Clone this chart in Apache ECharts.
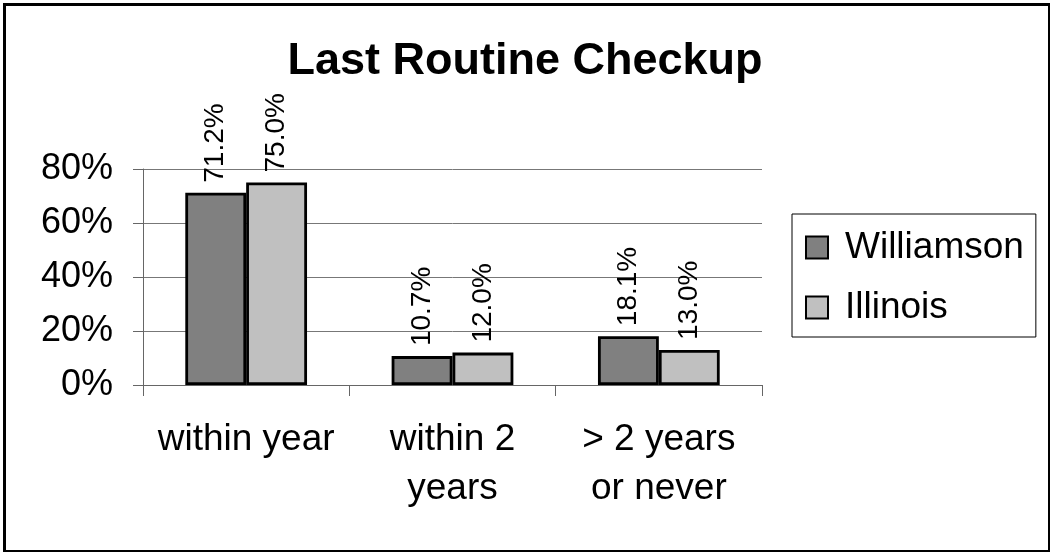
<!DOCTYPE html>
<html>
<head>
<meta charset="utf-8">
<script src="https://cdn.jsdelivr.net/npm/echarts@6/dist/echarts.min.js"></script>
<style>
html,body{margin:0;padding:0;background:#fff;}
#chart{width:1050px;height:552px;}
</style>
</head>
<body>
<div id="chart"></div>
<script>
var categories = ['within year', 'within 2\nyears', '> 2 years\nor never'];
var williamson = [71.2, 10.7, 18.1];
var illinois = [75.0, 12.0, 13.0];
var seriesNames = ['Williamson', 'Illinois'];
var titleText = 'Last Routine Checkup';

var FONT = '"Liberation Sans", Arial, Helvetica, sans-serif';
var chart = echarts.init(document.getElementById('chart'), null, {renderer: 'canvas'});

function barLabel() {
  return {
    show: true,
    position: 'top',
    rotate: 90,
    align: 'left',
    verticalAlign: 'middle',
    distance: 10,
    fontFamily: FONT,
    fontSize: 28,
    color: '#000',
    formatter: function (p) { return p.value.toFixed(1) + '%'; }
  };
}

chart.setOption({
  animation: false,
  backgroundColor: '#fff',
  title: {
    text: titleText,
    left: 'center',
    top: 34,
    textStyle: {fontFamily: FONT, fontSize: 45, fontWeight: 'bold', color: '#000'}
  },
  legend: {
    orient: 'vertical',
    left: 792,
    top: 214,
    padding: [15, 12, 11, 13],
    itemWidth: 22,
    itemHeight: 22,
    itemGap: 23,
    itemTextGap: 16,
    borderColor: '#000',
    borderWidth: 1,
    icon: 'rect',
    textStyle: {fontFamily: FONT, fontSize: 37, color: '#000', padding: [0, 0, 0, 12]},
    data: seriesNames
  },
  grid: {left: 143, right: 288, top: 169, bottom: 167, containLabel: false},
  xAxis: {
    type: 'category',
    data: categories,
    axisLine: {show: true, lineStyle: {color: '#666', width: 1}},
    axisTick: {show: true, length: 11, lineStyle: {color: '#666'}},
    axisLabel: {
      margin: 30,
      fontFamily: FONT,
      fontSize: 37,
      lineHeight: 49,
      color: '#000',
      interval: 0
    }
  },
  yAxis: {
    type: 'value',
    min: 0,
    max: 80,
    interval: 20,
    axisLine: {show: true, lineStyle: {color: '#666', width: 1}},
    axisTick: {show: true, length: 10, lineStyle: {color: '#666'}},
    splitLine: {show: true, lineStyle: {color: '#777', width: 1}},
    axisLabel: {
      margin: 30,
      fontFamily: FONT,
      fontSize: 36,
      color: '#000',
      formatter: '{value}%'
    }
  },
  series: [
    {
      name: seriesNames[0],
      type: 'bar',
      data: williamson,
      barGap: '0%',
      barCategoryGap: '41%',
      itemStyle: {color: '#808080', borderColor: '#000', borderWidth: 2.8},
      label: barLabel()
    },
    {
      name: seriesNames[1],
      type: 'bar',
      data: illinois,
      barGap: '0%',
      barCategoryGap: '41%',
      itemStyle: {color: '#c0c0c0', borderColor: '#000', borderWidth: 2.8},
      label: barLabel()
    }
  ],
  graphic: [
    {
      type: 'rect',
      left: 2, top: 2,
      shape: {x: 0, y: 0, width: 1045, height: 547},
      style: {fill: 'none', stroke: '#000', lineWidth: 3},
      silent: true
    }
  ]
});
</script>
</body>
</html>
